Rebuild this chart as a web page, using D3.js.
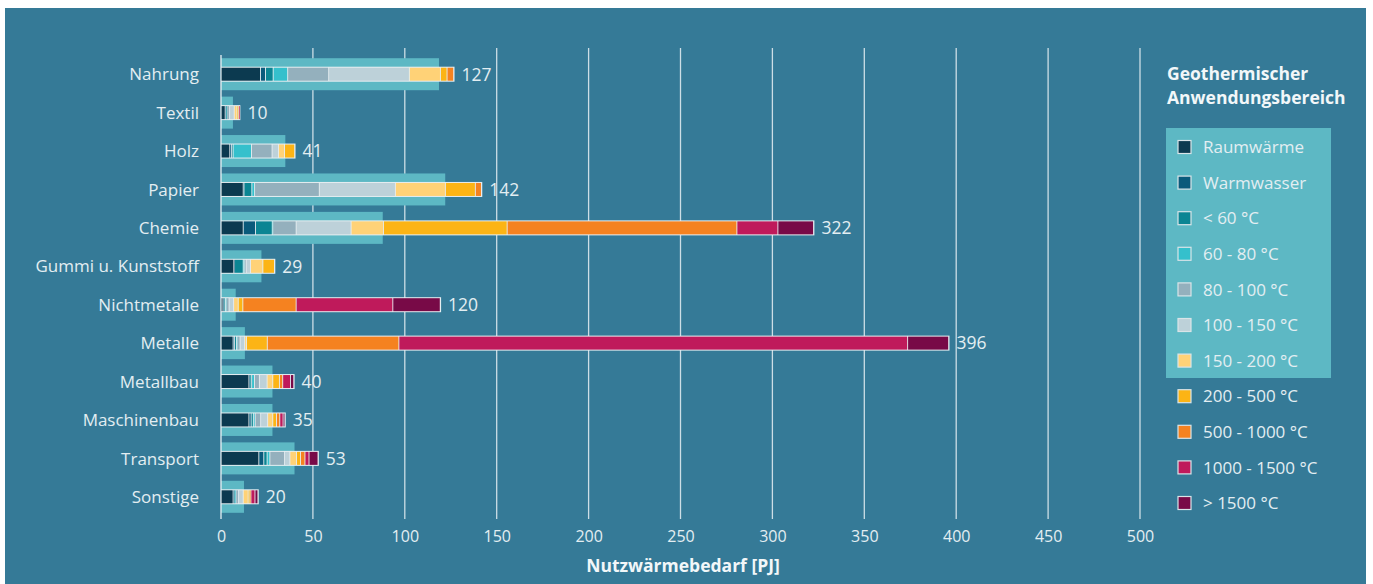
<!DOCTYPE html>
<html>
<head>
<meta charset="utf-8">
<script src="https://cdn.jsdelivr.net/npm/d3@7"></script>
<style>
  html, body { margin: 0; padding: 0; background: #ffffff; }
  svg { display: block; font-family: "Open Sans", "Noto Sans", sans-serif; }
</style>
</head>
<body>
<div id="chart"></div>
<script>
// Industry branches, top to bottom
const categories = ["Nahrung", "Textil", "Holz", "Papier", "Chemie", "Gummi u. Kunststoff",
  "Nichtmetalle", "Metalle", "Metallbau", "Maschinenbau", "Transport", "Sonstige"];

// Temperature classes (legend order = stack order)
const classes = ["Raumwärme", "Warmwasser", "< 60 °C", "60 - 80 °C", "80 - 100 °C", "100 - 150 °C",
  "150 - 200 °C", "200 - 500 °C", "500 - 1000 °C", "1000 - 1500 °C", "> 1500 °C"];
const classColors = ["#0c3a50", "#0a5a7b", "#0b8593", "#35c0cc", "#94b0bd", "#bdd1d9",
  "#ffd277", "#fcb415", "#f58220", "#bf1a5b", "#780a47"];

// Nutzwärmebedarf per class [PJ], one array per branch
const raumwaerme   = [21.4, 2.2, 4.7, 12.0, 12.0, 6.9, 1.0, 6.5, 15.1, 15.1, 20.5, 6.5];
const warmwasser   = [2.7, 0.3, 1.0, 0.5, 6.7, 0.4, 0.5, 0.8, 0.5, 1.2, 2.7, 0.5];
const unter60      = [4.2, 0.3, 0.8, 4.2, 9.1, 4.7, 0.8, 1.0, 1.0, 1.2, 1.8, 0.5];
const t60_80       = [7.9, 0.3, 10.0, 1.5, 0.3, 0.6, 0.5, 0.5, 1.5, 1.0, 1.5, 0.5];
const t80_100      = [22.3, 1.5, 11.2, 35.2, 12.7, 1.0, 1.5, 1.5, 2.7, 3.0, 8.0, 1.5];
const t100_150     = [43.9, 2.5, 3.5, 41.4, 29.9, 2.4, 2.5, 2.5, 4.2, 3.8, 2.9, 2.5];
const t150_200     = [16.9, 1.5, 3.3, 27.2, 17.6, 6.7, 2.5, 1.0, 3.1, 2.8, 3.6, 2.7];
const t200_500     = [3.6, 0.7, 5.5, 16.3, 67.3, 6.3, 2.5, 11.3, 3.6, 2.0, 2.2, 1.0];
const t500_1000    = [3.6, 0.2, 0, 3.3, 125.0, 0, 29.0, 71.6, 1.8, 1.8, 2.4, 0.5];
const t1000_1500   = [0, 0.5, 0, 0, 22.3, 0, 52.6, 276.8, 4.2, 1.8, 2.2, 2.2];
const ueber1500    = [0, 0, 0, 0, 19.4, 0, 25.8, 22.3, 1.8, 1.0, 4.9, 1.6];

// Totals shown at the bar ends
const totals = [127, 10, 41, 142, 322, 29, 120, 396, 40, 35, 53, 20];

// Geothermal share (light teal background bars) [PJ]
const geothermal = [118.6, 6.5, 35, 122, 88, 22, 8, 13, 28, 28, 40, 12.5];

const xTicks = [0, 50, 100, 150, 200, 250, 300, 350, 400, 450, 500];

const width = 1373, height = 584;
const bg = "#357a97";
const lightTeal = "#5db8c4";
const textColor = "#e3eef2";

const seriesArrays = [raumwaerme, warmwasser, unter60, t60_80, t80_100, t100_150,
  t150_200, t200_500, t500_1000, t1000_1500, ueber1500];

const rows = categories.map((c, i) => {
  const row = { name: c };
  classes.forEach((k, j) => row[k] = seriesArrays[j][i]);
  return row;
});

const svg = d3.select("#chart").append("svg")
  .attr("width", width)
  .attr("height", height);

// Panel
svg.append("rect")
  .attr("x", 5).attr("y", 8)
  .attr("width", 1361).attr("height", height - 8)
  .attr("fill", bg);

const x = d3.scaleLinear().domain([0, 500]).range([221, 1140]);
const y = d3.scaleBand().domain(categories).range([55, 516]).padding(0);
const cy = d => y(d) + y.bandwidth() / 2;

// Grid lines
svg.append("g")
  .selectAll("line")
  .data(xTicks.filter(d => d > 0))
  .enter()
  .append("line")
  .attr("x1", d => x(d)).attr("x2", d => x(d))
  .attr("y1", 48).attr("y2", 519)
  .attr("stroke", "#e8f0f3")
  .attr("stroke-opacity", 0.85)
  .attr("stroke-width", 1.3);

// Geothermal background bars
svg.append("g")
  .selectAll("rect")
  .data(categories)
  .enter()
  .append("rect")
  .attr("x", x(0))
  .attr("y", d => cy(d) - 16)
  .attr("width", (d, i) => x(geothermal[i]) - x(0))
  .attr("height", 32)
  .attr("fill", lightTeal);

// Zero axis line
svg.append("line")
  .attr("x1", x(0)).attr("x2", x(0))
  .attr("y1", 55).attr("y2", 519)
  .attr("stroke", "#e8f0f3")
  .attr("stroke-width", 1.3);

// Stacked bars
const stack = d3.stack().keys(classes);
const layers = stack(rows);

// light outline behind each stack
svg.append("g")
  .selectAll("rect")
  .data(categories)
  .enter()
  .append("rect")
  .attr("x", x(0))
  .attr("y", d => cy(d) - 7.5)
  .attr("width", (d, i) => x(d3.sum(seriesArrays, s => s[i])) - x(0) + 1)
  .attr("height", 15)
  .attr("fill", "#e6eef1");

const color = d3.scaleOrdinal().domain(classes).range(classColors);

svg.append("g")
  .selectAll("g")
  .data(layers)
  .enter()
  .append("g")
  .attr("fill", d => color(d.key))
  .selectAll("rect")
  .data(d => d.filter(p => p[1] - p[0] > 0))
  .enter()
  .append("rect")
  .attr("x", d => x(d[0]) + 0.6)
  .attr("y", d => cy(d.data.name) - 6.5)
  .attr("width", d => Math.max(0.6, x(d[1]) - x(d[0]) - 0.9))
  .attr("height", 13);

// Value labels
svg.append("g")
  .selectAll("text")
  .data(categories)
  .enter()
  .append("text")
  .attr("x", (d, i) => x(d3.sum(seriesArrays, s => s[i])) + 8)
  .attr("y", d => cy(d))
  .attr("dy", "0.36em")
  .attr("fill", textColor)
  .attr("font-size", 17.5)
  .text((d, i) => totals[i]);

// Category labels
const yAxis = svg.append("g")
  .attr("transform", "translate(199,0)")
  .call(d3.axisLeft(y).tickSize(0).tickPadding(0));
yAxis.select(".domain").remove();
yAxis.selectAll("text")
  .attr("fill", textColor)
  .attr("font-size", 17)
  .attr("font-family", "'Open Sans', sans-serif")
  .attr("dy", "0.36em");

// X axis
const xAxis = svg.append("g")
  .attr("transform", "translate(0,519)")
  .call(d3.axisBottom(x).tickValues(xTicks).tickSize(0).tickPadding(12));
xAxis.select(".domain").remove();
xAxis.selectAll("text")
  .attr("fill", textColor)
  .attr("font-size", 16)
  .attr("font-family", "'Open Sans', sans-serif");

svg.append("text")
  .attr("x", 683)
  .attr("y", 572)
  .attr("text-anchor", "middle")
  .attr("fill", "#f2f7f9")
  .attr("font-size", 17.5)
  .attr("font-weight", "bold")
  .text("Nutzwärmebedarf [PJ]");

// Legend
svg.append("text")
  .attr("x", 1167).attr("y", 80)
  .attr("fill", "#f2f7f9")
  .attr("font-size", 17.5)
  .attr("font-weight", "bold")
  .text("Geothermischer");
svg.append("text")
  .attr("x", 1167).attr("y", 104)
  .attr("fill", "#f2f7f9")
  .attr("font-size", 17.5)
  .attr("font-weight", "bold")
  .text("Anwendungsbereich");

svg.append("rect")
  .attr("x", 1166).attr("y", 128)
  .attr("width", 165).attr("height", 250)
  .attr("fill", lightTeal);

const legendY = d3.scalePoint().domain(classes).range([147, 503]);

const legend = svg.append("g")
  .selectAll("g")
  .data(classes)
  .enter()
  .append("g")
  .attr("transform", d => `translate(1178,${legendY(d)})`);

legend.append("rect")
  .attr("x", 0).attr("y", -6.5)
  .attr("width", 13).attr("height", 13)
  .attr("fill", d => color(d))
  .attr("stroke", "#d9e4e8")
  .attr("stroke-width", 1.2);

legend.append("text")
  .attr("x", 25)
  .attr("dy", "0.36em")
  .attr("fill", textColor)
  .attr("font-size", 17)
  .text(d => d);
</script>
</body>
</html>
